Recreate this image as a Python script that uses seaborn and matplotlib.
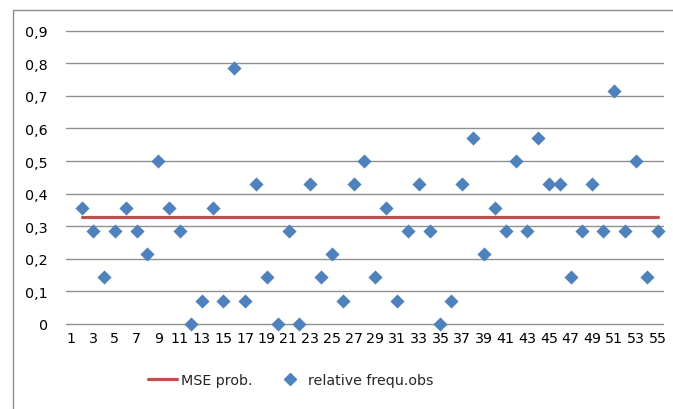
import matplotlib
matplotlib.use("Agg")
import matplotlib.pyplot as plt
from matplotlib.patches import Rectangle
from matplotlib.lines import Line2D
import seaborn as sns
import pandas as pd

# ---- data ----
categories = list(range(2, 56))
rel_freq = [0.357, 0.286, 0.143, 0.286, 0.357, 0.286, 0.214, 0.500, 0.357, 0.286,
            0.000, 0.071, 0.357, 0.071, 0.786, 0.071, 0.429, 0.143, 0.000, 0.286,
            0.000, 0.429, 0.143, 0.214, 0.071, 0.429, 0.500, 0.143, 0.357, 0.071,
            0.286, 0.429, 0.286, 0.000, 0.071, 0.429, 0.571, 0.214, 0.357, 0.286,
            0.500, 0.286, 0.571, 0.429, 0.429, 0.143, 0.286, 0.429, 0.286, 0.714,
            0.286, 0.500, 0.143, 0.286]
mse_value = 0.329
x_tick_labels = [str(v) for v in range(1, 56, 2)]
y_tick_labels = ["0", "0,1", "0,2", "0,3", "0,4", "0,5", "0,6", "0,7", "0,8", "0,9"]

df = pd.DataFrame({"cat": categories, "obs": rel_freq,
                   "mse": [mse_value] * len(categories)})

sns.set_theme(style="white")
plt.rcParams["font.family"] = ["DejaVu Sans"]

W, H = 673, 410
fig = plt.figure(figsize=(W / 100, H / 100), dpi=100)
ax = fig.add_axes([66 / W, 1 - 325 / H, (663 - 66) / W, (325 - 31.7) / H])

blue = "#4F81BD"
red = "#C0504D"

sns.lineplot(data=df, x="cat", y="mse", ax=ax, color=red, linewidth=2.3, zorder=2)
sns.scatterplot(data=df, x="cat", y="obs", ax=ax, marker="D", s=52,
                color=blue, linewidth=0, zorder=3, clip_on=False)

ax.set_xlim(0.5, 55.5)
ax.set_ylim(0, 0.9)
ax.set_yticks([i / 10 for i in range(10)])
ax.set_yticklabels(y_tick_labels)
ax.set_xticks(list(range(1, 56, 2)))
ax.set_xticklabels(x_tick_labels)
ax.set_xlabel("")
ax.set_ylabel("")
ax.tick_params(axis="both", length=0, labelsize=10.3, colors="#000000")
ax.tick_params(axis="y", pad=13)
ax.tick_params(axis="x", pad=5)
ax.yaxis.grid(True, color="#8f8f8f", linewidth=1.0)
ax.xaxis.grid(False)
ax.set_axisbelow(True)
for gl in ax.get_ygridlines():
    gl.set_clip_on(False)
for s in ax.spines.values():
    s.set_visible(False)
if ax.get_legend():
    ax.get_legend().remove()

# outer chart border
fig.patches.append(Rectangle((13 / W, -0.2), 1.2, 1 - 11 / H + 0.2,
                             transform=fig.transFigure, fill=False,
                             edgecolor="#8c8c8c", linewidth=1.0))

handles = [Line2D([], [], color=red, linewidth=2.3),
           Line2D([], [], color=blue, marker="D", markersize=6, linestyle="none")]
fig.legend(handles, ["MSE prob.", "relative frequ.obs"], loc="center left",
           bbox_to_anchor=(148 / W, 1 - 381 / H), ncol=2, frameon=False,
           fontsize=10.3, handlelength=2.0, handletextpad=0.3,
           columnspacing=1.6, borderpad=0, borderaxespad=0)

fig.savefig("out.png", dpi=100)
